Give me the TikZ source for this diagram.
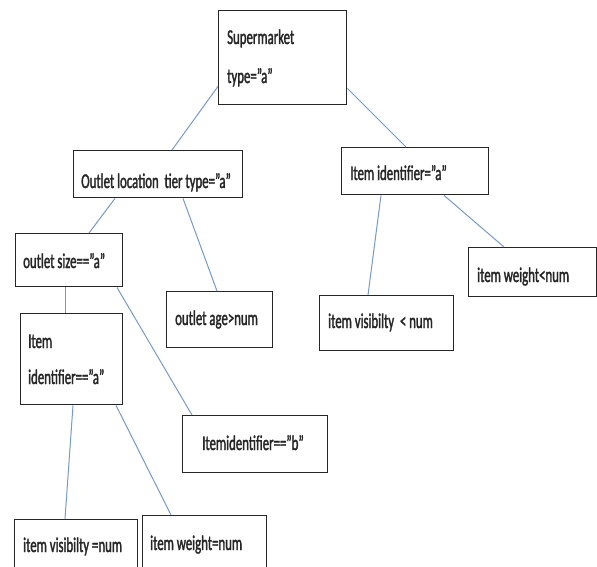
\documentclass[tikz,border=0pt]{standalone}
\usepackage{fontspec}
\setmainfont{Carlito}[FakeStretch=0.61,FakeBold=1.5]
\begin{document}
\begin{tikzpicture}[x=1pt,y=-1pt,
  box/.style={draw=black!85,line width=1.4pt,rectangle,inner sep=0pt,anchor=north west},
  lbl/.style={anchor=base west,inner sep=0pt,text=black!85,font=\fontsize{21}{24}\selectfont},
  conn/.style={draw={rgb,255:red,120;green,155;blue,195},line width=1pt}]
\clip (0,0) rectangle (597,567);
\fill[white] (0,0) rectangle (597,567);
% boxes
\node[box,minimum width=128pt,minimum height=94pt] (sm) at (218,10) {};
\node[box,minimum width=169pt,minimum height=47pt] (ol) at (73,150) {};
\node[box,minimum width=107pt,minimum height=53pt] (os) at (15,233) {};
\node[box,minimum width=147pt,minimum height=47pt] (ia) at (341,147) {};
\node[box,minimum width=128pt,minimum height=49pt] (iw) at (468,247) {};
\node[box,minimum width=134pt,minimum height=55pt] (iv) at (319,295) {};
\node[box,minimum width=106pt,minimum height=56pt] (oa) at (166,291) {};
\node[box,minimum width=102pt,minimum height=91pt] (iia) at (20,313) {};
\node[box,minimum width=145pt,minimum height=57pt] (iib) at (182,415) {};
\node[box,minimum width=123pt,minimum height=70pt] (ivn) at (14,519) {};
\node[box,minimum width=124pt,minimum height=74pt] (iwn) at (142,515) {};
% texts
\node[lbl] (t1) at (227,44) {Supermarket};
\node[lbl] (t2) at (227,83) {type=”a”};
\node[lbl] (t3) at (81,188) {Outlet location\ \ tier type=”a”};
\node[lbl] (t4) at (23,268) {outlet size==”a”};
\node[lbl] (t5) at (350,180) {Item identifier=”a”};
\node[lbl] (t6) at (477,282) {item weight<num};
\node[lbl] (t7) at (328,328) {item visibilty \ < num};
\node[lbl] (t8) at (175,325) {outlet age>num};
\node[lbl] (t9) at (28,348) {Item};
\node[lbl] (t10) at (28,384) {identifier==”a”};
\node[lbl] (t11) at (202,450) {Itemidentifier==”b”};
\node[lbl] (t12) at (23,552) {item visibilty =num};
\node[lbl] (t13) at (150,550) {item weight=num};
% connectors
\draw[conn] ([yshift=19pt]sm.south west) -- ([xshift=99pt]ol.north west);
\draw[conn] ([yshift=17pt]sm.south east) -- ([xshift=65pt]ia.north west);
\draw[conn] ([xshift=42pt]ol.south west) -- ([xshift=74pt]os.north west);
\draw[conn] ([xshift=110pt]ol.south west) -- ([xshift=51pt]oa.north west);
\draw[conn] ([xshift=40pt]ia.south west) -- ([xshift=49pt]iv.north west);
\draw[conn] ([xshift=103pt]ia.south west) -- ([xshift=36pt]iw.north west);
\draw[conn] ([xshift=50pt]os.south west) -- ([xshift=45pt]iia.north west);
\draw[conn] ([xshift=102pt]os.south west) -- ([xshift=10pt]iib.north west);
\draw[conn] ([xshift=53pt]iia.south west) -- ([xshift=51pt]ivn.north west);
\draw[conn] ([xshift=96pt]iia.south west) -- ([xshift=29pt]iwn.north west);
\end{tikzpicture}
\end{document}
